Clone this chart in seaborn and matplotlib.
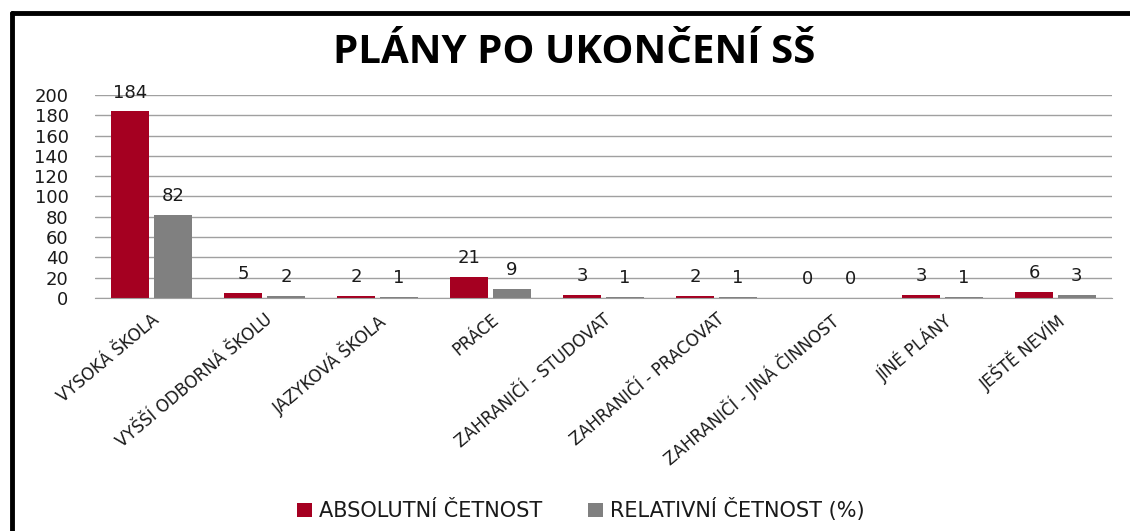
import numpy as np
import pandas as pd
import seaborn as sns
import matplotlib.pyplot as plt
from matplotlib.lines import Line2D

#Data
categories = ["VYSOKÁ ŠKOLA", "VYŠŠÍ ODBORNÁ ŠKOLU", "JAZYKOVÁ ŠKOLA", "PRÁCE",
              "ZAHRANIČÍ - STUDOVAT", "ZAHRANIČÍ - PRACOVAT", "ZAHRANIČÍ - JINÁ ČINNOST",
              "JÍNÉ PLÁNY", "JEŠTĚ NEVÍM"]
absolutni = [184, 5, 2, 21, 3, 2, 0, 3, 6]
relativni = [82, 2, 1, 9, 1, 1, 0, 1, 3]
series = ["ABSOLUTNÍ ČETNOST", "RELATIVNÍ ČETNOST (%)"]
yticks = list(range(0, 201, 20))

df = pd.DataFrame({
    "kategorie": categories * 2,
    "hodnota": absolutni + relativni,
    "serie": [series[0]] * len(categories) + [series[1]] * len(categories),
})

sns.set_style("white")
plt.rcParams['font.family'] = ['DejaVu Sans']

fig = plt.figure(figsize=(11.3, 5.31), dpi=100)
ax = fig.add_axes([0.084, 0.439, 0.9, 0.382])

sns.barplot(data=df, x="kategorie", y="hodnota", hue="serie",
            palette=["#A50021", "#808080"], width=0.76, gap=0.1,
            saturation=1, linewidth=0, ax=ax, legend=True)

for c in ax.containers:
    ax.bar_label(c, padding=7, fontsize=13, color="#1a1a1a")

ax.set_ylim(0, 200)
ax.set_yticks(yticks)
ax.yaxis.grid(True, color="#A0A0A0", linewidth=1)
ax.set_axisbelow(True)
ax.tick_params(axis="y", labelsize=13, length=0, pad=19, labelcolor="#1a1a1a")
ax.tick_params(axis="x", labelsize=12, length=0, pad=9, labelcolor="#1a1a1a")
plt.setp(ax.get_xticklabels(), rotation=40, ha="right", rotation_mode="anchor")
ax.set_xlabel("")
ax.set_ylabel("")
for s in ["top", "right", "left"]:
    ax.spines[s].set_visible(False)
ax.spines["bottom"].set_color("#A0A0A0")

ax.legend(loc="center", bbox_to_anchor=(0.478, -1.045), ncol=2, frameon=False,
          fontsize=15, handlelength=0.7, handleheight=0.7, columnspacing=2.2,
          handletextpad=0.35, labelcolor="#1a1a1a")

fig.text(0.508, 0.902, "PLÁNY PO UKONČENÍ SŠ", ha="center", va="center",
         fontsize=29, fontweight="bold", family="Open Sans", color="black")

#frame of the chart area (left and top edges only visible)
fig.add_artist(Line2D([0.011, 0.011], [0.0, 0.976], color="black", linewidth=3.5, transform=fig.transFigure))
fig.add_artist(Line2D([0.011, 1.0], [0.976, 0.976], color="black", linewidth=3.5, transform=fig.transFigure))

fig.savefig("out.png", dpi=100)
